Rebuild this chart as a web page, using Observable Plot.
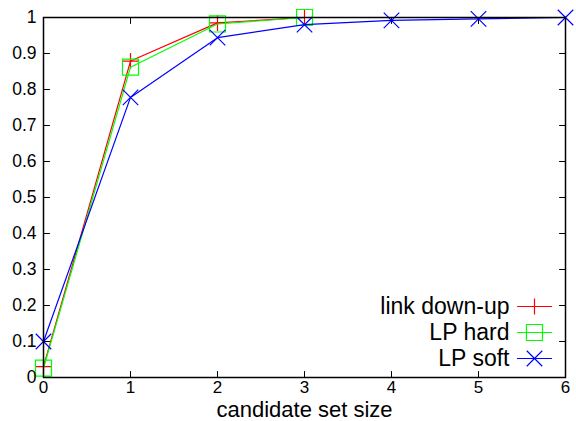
<!DOCTYPE html>
<html>
<head>
<meta charset="utf-8">
<script src="https://cdn.jsdelivr.net/npm/d3@7"></script>
<script src="https://cdn.jsdelivr.net/npm/@observablehq/plot@0.6"></script>
<style>
  html, body { margin: 0; padding: 0; background: white; }
  svg { display: block; }
</style>
</head>
<body>
<div id="chart"></div>
<script>
// ---- data ----
const seriesNames = ["link down-up", "LP hard", "LP soft"];
const seriesColors = ["#ff0000", "#00ff00", "#0000ff"];
const seriesSymbols = ["plus", "square2", "times"];

const linkX = [0, 1, 2, 3];
const linkY = [0.03, 0.879, 0.985, 1.0];
const hardX = [0, 1, 2, 3];
const hardY = [0.026, 0.862, 0.982, 1.0];
const softX = [0, 1, 2, 3, 4, 5, 6];
const softY = [0.1, 0.778, 0.944, 0.980, 0.992, 0.996, 1.0];

const xTicks = [0, 1, 2, 3, 4, 5, 6];
const yTicks = [0, 0.1, 0.2, 0.3, 0.4, 0.5, 0.6, 0.7, 0.8, 0.9, 1];
const xLabel = "candidate set size";

// ---- build tables ----
const rows = (xs, ys, name) => xs.map((x, i) => ({x, y: ys[i], name}));
const series = [
  rows(linkX, linkY, seriesNames[0]),
  rows(hardX, hardY, seriesNames[1]),
  rows(softX, softY, seriesNames[2])
];
const symbolR = [5.2, 10.2, 7.1];

const lineShape = {
  draw(context, l) { context.moveTo(0, 0); context.lineTo(0, -l); }
};
const tickLen = 6;

const marks = [];
// inward ticks on all four sides (gnuplot mirror style)
marks.push(Plot.vector(xTicks, {x: d => d, y: () => 0, length: tickLen, rotate: 0, anchor: "start", shape: lineShape, stroke: "black", strokeWidth: 1}));
marks.push(Plot.vector(xTicks, {x: d => d, y: () => 1, length: tickLen, rotate: 180, anchor: "start", shape: lineShape, stroke: "black", strokeWidth: 1}));
marks.push(Plot.vector(yTicks, {y: d => d, x: () => 0, length: tickLen, rotate: 90, anchor: "start", shape: lineShape, stroke: "black", strokeWidth: 1}));
marks.push(Plot.vector(yTicks, {y: d => d, x: () => 6, length: tickLen, rotate: -90, anchor: "start", shape: lineShape, stroke: "black", strokeWidth: 1}));

// series
series.forEach((data, i) => {
  marks.push(Plot.line(data, {x: "x", y: "y", stroke: seriesColors[i], strokeWidth: 1.2}));
  marks.push(Plot.dot(data, {x: "x", y: "y", symbol: () => seriesSymbols[i], r: symbolR[i], stroke: seriesColors[i], fill: "none", strokeWidth: 1.2}));
});

// legend (inside, bottom right)
const legendDy = [-71, -45, -19];
seriesNames.forEach((name, i) => {
  marks.push(Plot.text([name], {frameAnchor: "bottom-right", text: d => d, textAnchor: "end", lineAnchor: "middle", dx: -56, dy: legendDy[i], fontSize: 23, fill: "black"}));
  marks.push(Plot.vector([name], {frameAnchor: "bottom-right", length: 34, rotate: 90, anchor: "middle", shape: lineShape, dx: -31, dy: legendDy[i], stroke: seriesColors[i], strokeWidth: 1.2}));
  marks.push(Plot.dot([name], {frameAnchor: "bottom-right", symbol: () => seriesSymbols[i], r: symbolR[i], dx: -31, dy: legendDy[i], stroke: seriesColors[i], fill: "none", strokeWidth: 1.2}));
});

// axes
marks.push(Plot.axisX({ticks: xTicks, tickSize: 0, tickPadding: 3, label: null, fontSize: 17, tickFormat: d => String(d)}));
marks.push(Plot.axisY({ticks: yTicks, tickSize: 0, tickPadding: 7, label: null, fontSize: 17.5, tickFormat: d => String(d)}));
marks.push(Plot.text([xLabel], {frameAnchor: "bottom", text: d => d, lineAnchor: "bottom", dy: 39, fontSize: 22, fill: "black"}));

// frame
marks.push(Plot.frame({stroke: "black", strokeWidth: 1.5}));

const chart = Plot.plot({
  width: 576,
  height: 421,
  marginLeft: 43,
  marginRight: 11,
  marginTop: 17,
  marginBottom: 44,
  x: {domain: [0, 6]},
  y: {domain: [0, 1]},
  style: {fontFamily: "'Liberation Sans', Arial, sans-serif", fontSize: "17px", background: "white", color: "black", overflow: "visible"},
  marks
});
document.getElementById("chart").appendChild(chart);
</script>
</body>
</html>
